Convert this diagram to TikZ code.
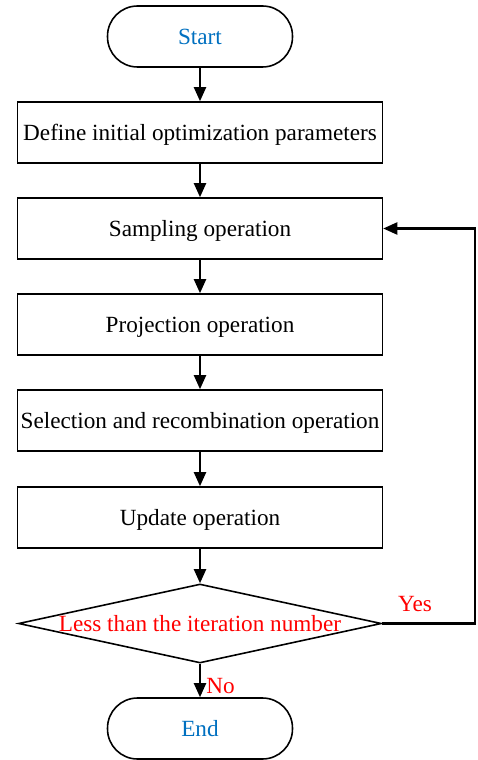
\documentclass[tikz,border=0pt]{standalone}
\usepackage{fontspec}
\setmainfont{Liberation Serif}
\usetikzlibrary{arrows.meta,positioning,shapes.geometric}
\definecolor{termblue}{RGB}{0,112,192}

\begin{document}
\begin{tikzpicture}[x=0.02cm,y=-0.02cm,font=\fontsize{13.2}{15}\selectfont,
  every node/.style={text depth=0pt},
  term/.style={draw,line width=0.9pt,rounded corners=0.6cm,minimum width=3.7cm,minimum height=1.22cm,text=termblue},
  stepbox/.style={draw,line width=0.9pt,inner xsep=1pt,minimum width=7.3cm,minimum height=1.22cm},
  test/.style={draw,line width=0.9pt,diamond,inner sep=0pt,minimum width=7.26cm,minimum height=1.58cm,text=red},
  flow/.style={line width=1.2pt,-{Triangle[length=0.28cm,width=0.24cm]}}]
\useasboundingbox (0,0) rectangle (477,760);
% main column
\node[term] (start) at (200,36.5) {Start};
\node[stepbox] (init) at (200,132.5) {Define initial optimization parameters};
\node[stepbox] (samp) at (200,228.5) {Sampling operation};
\node[stepbox] (proj) at (200,324.5) {Projection operation};
\node[stepbox] (sel) at (200,420.5) {Selection and recombination operation};
\node[stepbox] (upd) at (200,517.5) {Update operation};
\node[test] (iter) at (200,623.5) {\makebox[0pt]{Less than the iteration number}};
\node[term] (end) at (200,728.5) {End};
\coordinate (back) at (475,623.5);
% arrows
\draw[flow] (start) -- (init);
\draw[flow] (init) -- (samp);
\draw[flow] (samp) -- (proj);
\draw[flow] (proj) -- (sel);
\draw[flow] (sel) -- (upd);
\draw[flow] (upd) -- (iter);
\draw[flow] (iter.south) -- (end);
\draw[flow] (iter.east) -- (back) |- (samp.east);
% branch labels
\node[text=red] (yes) at (415,604) {Yes};
\node[text=red,anchor=west,inner sep=0pt] (no) at (206,686) {No};
\end{tikzpicture}
\end{document}
